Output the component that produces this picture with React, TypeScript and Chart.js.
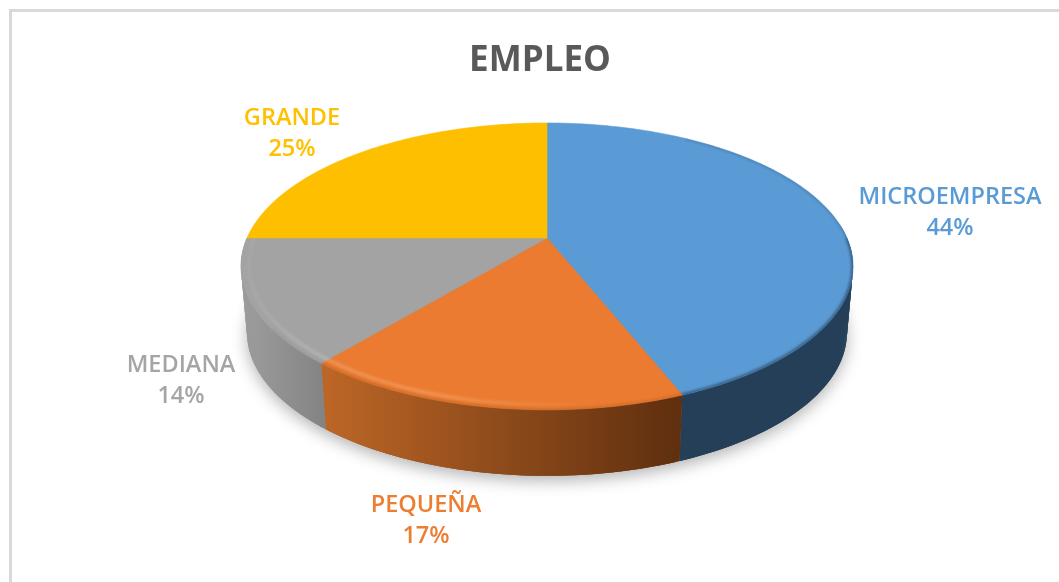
import React, { useEffect, useRef } from "react";
import { Chart, registerables } from "chart.js";

Chart.register(...registerables);

const categories = ["MICROEMPRESA", "PEQUEÑA", "MEDIANA", "GRANDE"];
const shares = [44, 17, 14, 25];
const faceColors = ["#5B9BD5", "#EB7B30", "#A3A3A3", "#FDBF00"];
const wallLeft = ["#243F57", "#BC6626", "#9A9A9A", "#997300"];
const wallRight = ["#243F57", "#5F2F0F", "#838383", "#997300"];
const labelColors = ["#5B9BD5", "#ED7D31", "#A5A5A5", "#FFC000"];
const labelX = [950, 426, 181, 292];
const labelY = [197, 505, 365, 118];

const FONT = "'Open Sans', sans-serif";
const W = 1059;
const H = 582;

// perspective of the pie's top plane: the apex sits above the centre of the rim ellipse
const CX = 547;
const CY = 238;
const RX = 300;
const RY = 137.8;
const K = -0.198;
const DEPTH = 66;
const LOW_X = 0.98;

const top = (a: number, r = 1) => {
  const u = Math.cos(a) * r;
  const v = Math.sin(a) * r;
  const w = 1 + K * v;
  return { x: CX + (RX * u) / w, y: CY + (RY * v) / w };
};
const low = (a: number) => {
  const p = top(a);
  return { x: CX + (p.x - CX) * LOW_X, y: p.y + DEPTH };
};

const trace = (ctx: CanvasRenderingContext2D, from: number, to: number, fn: (a: number) => { x: number; y: number }, start: boolean) => {
  const n = Math.max(2, Math.ceil(Math.abs(to - from) * 60));
  for (let i = 0; i <= n; i++) {
    const p = fn(from + ((to - from) * i) / n);
    if (i === 0 && start) ctx.moveTo(p.x, p.y);
    else ctx.lineTo(p.x, p.y);
  }
};

// overlapping quads, so no seams show between neighbouring steps
const wallBand = (ctx: CanvasRenderingContext2D, s: number, e: number) => {
  const n = Math.max(2, Math.ceil((e - s) * 90));
  const step = (e - s) / n;
  for (let i = 0; i < n; i++) {
    const a0 = s + step * i;
    const a1 = Math.min(e, a0 + step * 2);
    const p0 = top(a0);
    const p1 = top(a1);
    const q0 = low(a0);
    const q1 = low(a1);
    ctx.beginPath();
    ctx.moveTo(p0.x, p0.y);
    ctx.lineTo(p1.x, p1.y);
    ctx.lineTo(q1.x, q1.y);
    ctx.lineTo(q0.x, q0.y);
    ctx.closePath();
    ctx.fill();
  }
};

const pie3d = {
  id: "pie3d",
  beforeDraw(chart: any) {
    const ctx: CanvasRenderingContext2D = chart.ctx;
    ctx.save();
    ctx.strokeStyle = "#D9D9D9";
    ctx.lineWidth = 3;
    ctx.beginPath();
    ctx.moveTo(10.5, H);
    ctx.lineTo(10.5, 10.5);
    ctx.lineTo(W, 10.5);
    ctx.stroke();
    ctx.restore();
  },
  beforeDatasetDraw(chart: any, args: any) {
    const ctx: CanvasRenderingContext2D = chart.ctx;
    const arcs = chart.getDatasetMeta(args.index).data;
    const full = (fn: (a: number) => { x: number; y: number }) => {
      ctx.beginPath();
      trace(ctx, 0, Math.PI * 2, fn, true);
      ctx.closePath();
    };

    // soft ground shadow
    ctx.save();
    ctx.shadowColor = "rgba(0,0,0,0.30)";
    ctx.shadowBlur = 16;
    ctx.shadowOffsetY = 5;
    ctx.fillStyle = "#888";
    full(low);
    ctx.fill();
    ctx.restore();

    // side walls, swept from the top rim to the lower rim
    arcs.forEach((arc: any, i: number) => {
      const s = Math.max(arc.startAngle, -0.1);
      const e = Math.min(arc.endAngle, Math.PI);
      if (e <= s) return;
      const g = ctx.createLinearGradient(low(e).x, 0, low(s).x, 0);
      g.addColorStop(0, wallLeft[i]);
      g.addColorStop(1, wallRight[i]);
      ctx.fillStyle = g;
      wallBand(ctx, s, e);
    });

    // top faces
    arcs.forEach((arc: any, i: number) => {
      ctx.fillStyle = faceColors[i];
      ctx.strokeStyle = faceColors[i];
      ctx.lineWidth = 0.6;
      ctx.beginPath();
      ctx.moveTo(CX, CY);
      trace(ctx, arc.startAngle, arc.endAngle, top, false);
      ctx.closePath();
      ctx.fill();
      ctx.stroke();
    });

    // bevel on the rim, kept inside the top face
    ctx.save();
    full(top);
    ctx.clip();
    ctx.filter = "blur(1.4px)";
    ctx.lineWidth = 3;
    arcs.forEach((arc: any, i: number) => {
      const s = Math.max(arc.startAngle, 0);
      const e = Math.min(arc.endAngle, Math.PI * 0.8);
      if (e <= s) return;
      ctx.strokeStyle = wallRight[i];
      ctx.globalAlpha = i === 0 ? 0.8 : 0.2;
      ctx.beginPath();
      trace(ctx, s, e, (a) => top(a, 1), true);
      ctx.stroke();
    });
    ctx.globalAlpha = 0.45;
    ctx.lineWidth = 1.6;
    ctx.strokeStyle = "#243F57";
    ctx.beginPath();
    trace(ctx, -1.0, 0, top, true);
    ctx.stroke();
    ctx.globalAlpha = 1;
    const hl = ctx.createLinearGradient(245, 0, 600, 0);
    hl.addColorStop(0, "rgba(255,255,255,0.05)");
    hl.addColorStop(0.2, "rgba(255,255,255,0.2)");
    hl.addColorStop(0.55, "rgba(255,220,180,0.3)");
    hl.addColorStop(1, "rgba(255,220,180,0)");
    ctx.strokeStyle = hl;
    ctx.lineWidth = 3;
    ctx.beginPath();
    trace(ctx, 1.2, Math.PI, (a) => top(a, 0.975), true);
    ctx.stroke();
    ctx.restore();
    return false;
  },
  afterDatasetsDraw(chart: any) {
    const ctx: CanvasRenderingContext2D = chart.ctx;
    const values = chart.data.datasets[0].data as number[];
    const total = values.reduce((a, b) => a + b, 0);
    ctx.save();
    ctx.textAlign = "center";
    ctx.textBaseline = "middle";
    ctx.font = `600 23.5px ${FONT}`;
    (chart.data.labels as string[]).forEach((name, i) => {
      ctx.fillStyle = labelColors[i];
      ctx.fillText(name, labelX[i], labelY[i]);
      ctx.fillText(`${Math.round((values[i] / total) * 100)}%`, labelX[i], labelY[i] + 31);
    });
    ctx.restore();
  },
};

export default function App() {
  const ref = useRef<HTMLCanvasElement>(null);
  useEffect(() => {
    document.body.style.margin = "0";
    const chart = new Chart(ref.current!, {
      type: "pie",
      data: {
        labels: categories,
        datasets: [{ data: shares, backgroundColor: faceColors, borderWidth: 0 }],
      },
      options: {
        responsive: false,
        animation: false,
        layout: { padding: { left: 21, top: 40 } },
        plugins: {
          legend: { display: false },
          tooltip: { enabled: false },
          title: {
            display: true,
            text: "EMPLEO",
            color: "#595959",
            font: { family: FONT, size: 35, weight: "700" },
            padding: 0,
          },
        },
      },
      plugins: [pie3d],
    } as any);
    return () => chart.destroy();
  }, []);
  return <canvas ref={ref} width={W} height={H} style={{ display: "block" }} />;
}
